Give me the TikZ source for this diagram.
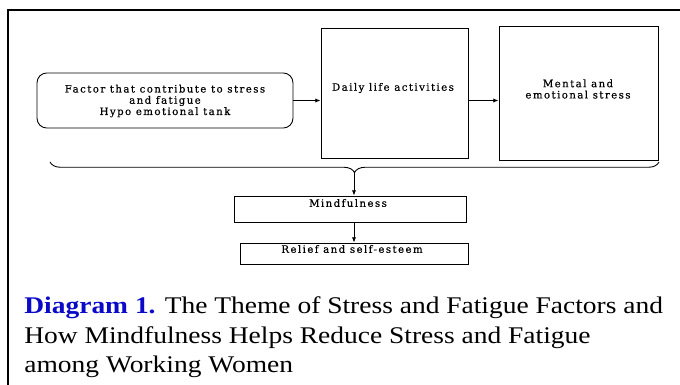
\documentclass[tikz,border=0pt]{standalone}
\usepackage{fontspec}
\setmainfont{Liberation Serif}[FakeStretch=1.15]
\newfontfamily\diafont{DejaVu Serif}[LetterSpace=14, FakeBold=0.4]
\usetikzlibrary{positioning, arrows.meta, decorations.pathreplacing, calc}
\definecolor{capblue}{RGB}{10,10,200}

\begin{document}
\begin{tikzpicture}[
    x=0.02cm, y=-0.02cm,
    kasten/.style={draw, line width=0.5pt, inner sep=0pt},
    rundkasten/.style={kasten, rounded corners=5.5pt},
    beschrift/.style={font=\diafont\fontsize{5.8}{6.4}\selectfont, align=center, inner sep=0pt},
    pfeil/.style={-{Latex[length=3pt,width=2.4pt]}, line width=0.5pt},
    unterschrift/.style={font=\fontsize{13.6}{16}\selectfont, anchor=base west, inner sep=0pt},
  ]
  \useasboundingbox (0,0) rectangle (680,385);

  % Rahmen
  \draw[line width=1.5pt] (684,10) -- (8,10) -- (8,389);

  % Kaesten
  \node[rundkasten, minimum width=5.12cm, minimum height=1.1cm] (factor) at (165,100.5) {};
  \node[kasten, minimum width=2.94cm, minimum height=2.6cm] (daily) at (394.5,93) {};
  \node[kasten, minimum width=3.18cm, minimum height=2.68cm] (mental) at (578.5,93) {};
  \node[kasten, minimum width=4.64cm, minimum height=0.52cm] (mind) at (350,209) {};
  \node[kasten, minimum width=4.56cm, minimum height=0.42cm] (relief) at (354,253.5) {};

  \node[beschrift] (factortxt) at (165,101) {Factor that contribute to stress\\ and fatigue\\ Hypo emotional tank};
  \node[beschrift] (dailytxt) at (393,88) {Daily life activities};
  \node[beschrift] (mentaltxt) at (578,89) {Mental and\\ emotional stress};
  \node[beschrift] (mindtxt) at (348,203) {Mindfulness};
  \node[beschrift] (relieftxt) at (352,249) {Relief and self-esteem};

  % Pfeile
  \draw[pfeil] (factor.east) -- (factor.east -| daily.west);
  \draw[pfeil] (daily.east |- factor.east) -- (mental.west |- factor.east);

  % Klammer
  \draw[decorate, decoration={brace, mirror, amplitude=6pt}, line width=0.5pt]
    (50,162) -- (659,162);
  \coordinate (bracetip) at (354,172);
  \draw[pfeil] (bracetip) -- (bracetip |- mind.north);
  \draw[pfeil] (mind.south -| bracetip) -- (relief.north -| bracetip);

  % Unterschrift
  \node[unterschrift] (cap1) at (24,313)
    {{\bfseries\color{capblue}Diagram 1.} The Theme of Stress and Fatigue Factors and};
  \node[unterschrift] (cap2) at (24,343) {How Mindfulness Helps Reduce Stress and Fatigue};
  \node[unterschrift] (cap3) at (24,372) {among Working Women};
\end{tikzpicture}
\end{document}
